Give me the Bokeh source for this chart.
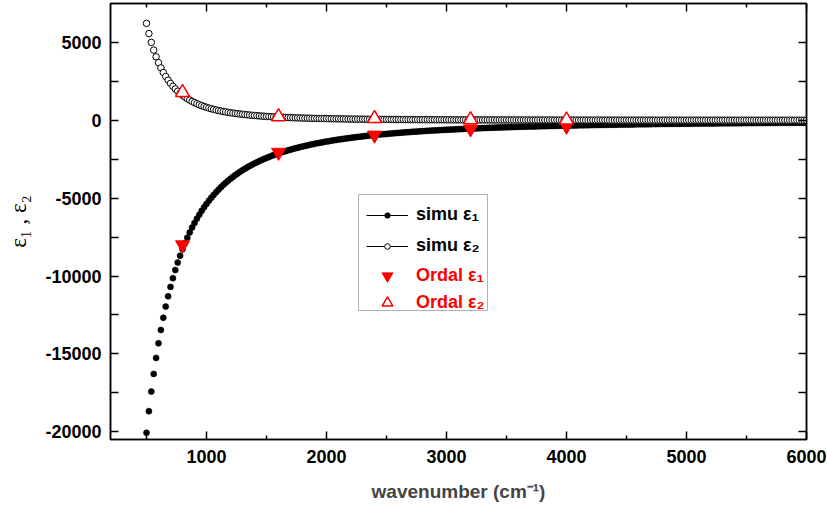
from bokeh.plotting import figure
from bokeh.models import (ColumnDataSource, Range1d, LinearAxis, FixedTicker,
                          Legend, LegendItem, BoxAnnotation, PrintfTickFormatter,
                          CustomLabelingPolicy)
from bokeh.core.properties import value
from bokeh.embed import file_html
from bokeh.resources import INLINE

# ---------------- data ----------------
wavenumber = [
    500, 520, 540, 560, 580, 600, 620, 640, 660, 680,
    700, 720, 740, 760, 780, 800, 820, 840, 860, 880,
    900, 920, 940, 960, 980, 1000, 1020, 1040, 1060, 1080,
    1100, 1120, 1140, 1160, 1180, 1200, 1220, 1240, 1260, 1280,
    1300, 1320, 1340, 1360, 1380, 1400, 1420, 1440, 1460, 1480,
    1500, 1520, 1540, 1560, 1580, 1600, 1620, 1640, 1660, 1680,
    1700, 1720, 1740, 1760, 1780, 1800, 1820, 1840, 1860, 1880,
    1900, 1920, 1940, 1960, 1980, 2000, 2020, 2040, 2060, 2080,
    2100, 2120, 2140, 2160, 2180, 2200, 2220, 2240, 2260, 2280,
    2300, 2320, 2340, 2360, 2380, 2400, 2420, 2440, 2460, 2480,
    2500, 2520, 2540, 2560, 2580, 2600, 2620, 2640, 2660, 2680,
    2700, 2720, 2740, 2760, 2780, 2800, 2820, 2840, 2860, 2880,
    2900, 2920, 2940, 2960, 2980, 3000, 3020, 3040, 3060, 3080,
    3100, 3120, 3140, 3160, 3180, 3200, 3220, 3240, 3260, 3280,
    3300, 3320, 3340, 3360, 3380, 3400, 3420, 3440, 3460, 3480,
    3500, 3520, 3540, 3560, 3580, 3600, 3620, 3640, 3660, 3680,
    3700, 3720, 3740, 3760, 3780, 3800, 3820, 3840, 3860, 3880,
    3900, 3920, 3940, 3960, 3980, 4000, 4020, 4040, 4060, 4080,
    4100, 4120, 4140, 4160, 4180, 4200, 4220, 4240, 4260, 4280,
    4300, 4320, 4340, 4360, 4380, 4400, 4420, 4440, 4460, 4480,
    4500, 4520, 4540, 4560, 4580, 4600, 4620, 4640, 4660, 4680,
    4700, 4720, 4740, 4760, 4780, 4800, 4820, 4840, 4860, 4880,
    4900, 4920, 4940, 4960, 4980, 5000, 5020, 5040, 5060, 5080,
    5100, 5120, 5140, 5160, 5180, 5200, 5220, 5240, 5260, 5280,
    5300, 5320, 5340, 5360, 5380, 5400, 5420, 5440, 5460, 5480,
    5500, 5520, 5540, 5560, 5580, 5600, 5620, 5640, 5660, 5680,
    5700, 5720, 5740, 5760, 5780, 5800, 5820, 5840, 5860, 5880,
    5900, 5920, 5940, 5960, 5980, 6000,
]

simu_eps1 = [
    -20070, -18680, -17425, -16289, -15259, -14321, -13465, -12683, -11965, -11306,
    -10699, -10139, -9621, -9141, -8696, -8282, -7897, -7537, -7202, -6888,
    -6594, -6318, -6059, -5815, -5586, -5370, -5166, -4974, -4792, -4619,
    -4456, -4301, -4154, -4015, -3882, -3756, -3636, -3521, -3412, -3307,
    -3208, -3113, -3022, -2935, -2851, -2771, -2695, -2621, -2551, -2483,
    -2418, -2355, -2295, -2237, -2181, -2128, -2076, -2026, -1978, -1931,
    -1886, -1843, -1801, -1761, -1722, -1684, -1648, -1612, -1578, -1545,
    -1513, -1481, -1451, -1422, -1393, -1366, -1339, -1313, -1288, -1263,
    -1239, -1216, -1194, -1172, -1151, -1130, -1110, -1090, -1071, -1052,
    -1034, -1016, -999, -982, -966, -950, -934, -919, -904, -890,
    -876, -862, -848, -835, -822, -810, -797, -785, -774, -762,
    -751, -740, -729, -719, -709, -698, -689, -679, -669, -660,
    -651, -642, -634, -625, -617, -609, -601, -593, -585, -577,
    -570, -563, -556, -549, -542, -535, -528, -522, -515, -509,
    -503, -497, -491, -485, -479, -474, -468, -463, -458, -452,
    -447, -442, -437, -432, -427, -423, -418, -413, -409, -404,
    -400, -396, -392, -387, -383, -379, -375, -371, -368, -364,
    -360, -356, -353, -349, -346, -342, -339, -335, -332, -329,
    -326, -323, -319, -316, -313, -310, -307, -305, -302, -299,
    -296, -293, -291, -288, -285, -283, -280, -278, -275, -273,
    -270, -268, -266, -263, -261, -259, -256, -254, -252, -250,
    -248, -246, -244, -241, -239, -237, -235, -234, -232, -230,
    -228, -226, -224, -222, -221, -219, -217, -215, -214, -212,
    -210, -209, -207, -205, -204, -202, -201, -199, -198, -196,
    -195, -193, -192, -190, -189, -187, -186, -185, -183, -182,
    -181, -179, -178, -177, -176, -174, -173, -172, -171, -169,
    -168, -167, -166, -165, -164, -162, -161, -160, -159, -158,
    -157, -156, -155, -154, -153, -152,
]

simu_eps2 = [
    6222, 5568, 5002, 4509, 4078, 3700, 3367, 3072, 2810, 2577,
    2369, 2183, 2015, 1865, 1728, 1605, 1493, 1391, 1298, 1213,
    1136, 1065, 999, 939, 884, 833, 785, 741, 701, 663,
    628, 595, 565, 537, 510, 485, 462, 440, 420, 401,
    383, 366, 350, 335, 320, 307, 294, 282, 271, 260,
    250, 240, 231, 222, 214, 206, 199, 192, 185, 178,
    172, 166, 161, 155, 150, 145, 140, 136, 132, 127,
    123, 120, 116, 113, 109, 106, 103, 100, 97, 94,
    92, 89, 87, 84, 82, 80, 78, 75.5, 73.5, 71.6,
    69.7, 68, 66.2, 64.6, 63, 61.4, 59.9, 58.4, 57, 55.7,
    54.3, 53.1, 51.8, 50.6, 49.5, 48.3, 47.2, 46.2, 45.1, 44.1,
    43.2, 42.2, 41.3, 40.4, 39.6, 38.7, 37.9, 37.1, 36.3, 35.6,
    34.9, 34.1, 33.5, 32.8, 32.1, 31.5, 30.9, 30.3, 29.7, 29.1,
    28.5, 28.0, 27.5, 27.0, 26.4, 26.0, 25.5, 25.0, 24.6, 24.1,
    23.7, 23.2, 22.8, 22.4, 22.0, 21.6, 21.3, 20.9, 20.5, 20.2,
    19.8, 19.5, 19.2, 18.9, 18.5, 18.2, 17.9, 17.6, 17.4, 17.1,
    16.8, 16.5, 16.3, 16.0, 15.8, 15.5, 15.3, 15.0, 14.8, 14.6,
    14.3, 14.1, 13.9, 13.7, 13.5, 13.3, 13.1, 12.9, 12.7, 12.5,
    12.4, 12.2, 12.0, 11.8, 11.7, 11.5, 11.3, 11.2, 11.0, 10.9,
    10.7, 10.6, 10.4, 10.3, 10.1, 10.0, 9.9, 9.7, 9.6, 9.5,
    9.3, 9.2, 9.1, 9.0, 8.9, 8.7, 8.6, 8.5, 8.4, 8.3,
    8.2, 8.1, 8.0, 7.9, 7.8, 7.7, 7.6, 7.5, 7.4, 7.3,
    7.2, 7.2, 7.1, 7.0, 6.9, 6.8, 6.7, 6.7, 6.6, 6.5,
    6.4, 6.3, 6.3, 6.2, 6.1, 6.1, 6.0, 5.9, 5.9, 5.8,
    5.7, 5.7, 5.6, 5.5, 5.5, 5.4, 5.4, 5.3, 5.2, 5.2,
    5.1, 5.1, 5.0, 5.0, 4.9, 4.8, 4.8, 4.7, 4.7, 4.6,
    4.6, 4.6, 4.5, 4.5, 4.4, 4.4, 4.3, 4.3, 4.2, 4.2,
    4.1, 4.1, 4.1, 4.0, 4.0, 3.9,
]

ordal_wavenumber = [800, 1600, 2400, 3200, 4000]
ordal_eps1 = [-8000, -2060, -955, -560, -385]
ordal_eps2 = [1795, 230, 115, 30, 20]

x_ticks = [1000, 2000, 3000, 4000, 5000, 6000]
x_minor_ticks = [500, 1500, 2500, 3500, 4500, 5500]
y_ticks = [-20000, -15000, -10000, -5000, 0, 5000]
y_minor_ticks = [-17500, -12500, -7500, -2500, 2500]

legend_labels = ["simu ε₁", "simu ε₂", "Ordal ε₁", "Ordal ε₂"]
x_title = "wavenumber (cm⁻¹)"
y_title = "ε₁ , ε₂"

# ---------------- figure ----------------
n = min(len(wavenumber), len(simu_eps1), len(simu_eps2))
simu = ColumnDataSource(dict(x=wavenumber[:n], e1=simu_eps1[:n], e2=simu_eps2[:n]))
ordal = ColumnDataSource(dict(x=ordal_wavenumber, e1=ordal_eps1, e2=ordal_eps2))

FONT = "Liberation Sans"

p = figure(width=827, height=511, output_backend="svg", toolbar_location=None,
           x_range=Range1d(200, 6000), y_range=Range1d(-20500, 7500),
           min_border_left=110, min_border_right=21, min_border_top=3,
           min_border_bottom=72, background_fill_color="white",
           border_fill_color="white")
p.xgrid.visible = False
p.ygrid.visible = False
p.outline_line_color = "black"
p.outline_line_width = 1.5

xt = FixedTicker(ticks=x_ticks, minor_ticks=x_minor_ticks)
yt = FixedTicker(ticks=y_ticks, minor_ticks=y_minor_ticks)

# mirror axes (top / right) carry ticks only: this policy keeps none of their labels
no_labels = CustomLabelingPolicy(code="for (const i of indices) indices.unset(i); return indices")


def style(ax, ticker, major_len, minor_len, labels):
    ax.ticker = ticker
    ax.formatter = PrintfTickFormatter(format="%d")
    ax.axis_line_color = "black"
    ax.axis_line_width = 1.5
    ax.major_tick_in = major_len
    ax.major_tick_out = 0
    ax.minor_tick_in = minor_len
    ax.minor_tick_out = 0
    ax.major_tick_line_color = "black"
    ax.major_tick_line_width = 1.5
    ax.minor_tick_line_color = "black"
    ax.minor_tick_line_width = 1.5
    if labels:
        ax.major_label_text_font = FONT
        ax.major_label_text_font_style = "bold"
        ax.major_label_text_font_size = "18px"
        ax.major_label_text_color = "black"
    else:
        ax.major_label_policy = no_labels
        ax.major_label_text_font_size = "1px"
        ax.major_label_text_alpha = 0
        ax.major_label_standoff = 0
        ax.axis_label = None


xa = p.xaxis[0]
ya = p.yaxis[0]
style(xa, xt, 8, 4, True)
style(ya, yt, 8, 8, True)
xa.major_label_standoff = 10
ya.major_label_standoff = 9

xa.axis_label = x_title
xa.axis_label_text_font = FONT
xa.axis_label_text_font_style = "bold"
xa.axis_label_text_font_size = "19px"
xa.axis_label_standoff = 15

ya.axis_label = y_title
ya.axis_label_text_font = "Liberation Serif"
ya.axis_label_text_font_style = "normal"
ya.axis_label_text_font_size = "23px"
ya.axis_label_text_color = "black"
ya.axis_label_standoff = 11

top = LinearAxis()
right = LinearAxis()
style(top, xt, 8, 4, False)
style(right, yt, 8, 8, False)
p.add_layout(top, "above")
p.add_layout(right, "right")

# ---------------- data marks ----------------
r1 = p.scatter("x", "e1", source=simu, marker="circle", size=6,
               fill_color="black", line_color="black", line_width=0.6)
r2 = p.scatter("x", "e2", source=simu, marker="circle", size=6.5,
               fill_color="white", line_color="black", line_width=1)
r3 = p.scatter("x", "e1", source=ordal, marker="inverted_triangle", size=14,
               fill_color="#ff0000", line_color="#ff0000", line_width=1)
r4 = p.scatter("x", "e2", source=ordal, marker="triangle", size=14,
               fill_color="white", line_color="#ff0000", line_width=1.5)

# hidden line renderers: not drawn in the plot, they only give the legend its line
ln1 = p.line("x", "e1", source=simu, line_color="black", line_width=1, visible=False)
ln2 = p.line("x", "e2", source=simu, line_color="black", line_width=1, visible=False)

common = dict(orientation="vertical", glyph_width=42, label_height=21,
              padding=0, margin=0, label_standoff=8,
              border_line_alpha=0, background_fill_alpha=0,
              label_text_font=FONT, label_text_font_style="bold",
              label_text_font_size="18px", click_policy="none")

leg1 = Legend(items=[LegendItem(label=value(legend_labels[0]), renderers=[ln1, r1]),
                     LegendItem(label=value(legend_labels[1]), renderers=[ln2, r2])],
              location=(256, 183), glyph_height=14, spacing=10,
              label_text_color="black", **common)
leg2 = Legend(items=[LegendItem(label=value(legend_labels[2]), renderers=[r3]),
                     LegendItem(label=value(legend_labels[3]), renderers=[r4])],
              location=(256, 123), glyph_height=27, spacing=0,
              label_text_color="#ff0000", **common)
p.add_layout(leg1, "center")
p.add_layout(leg2, "center")

legend_box = BoxAnnotation(left=248, right=377, top=245, bottom=129,
                           left_units="screen", right_units="screen",
                           top_units="screen", bottom_units="screen",
                           fill_color=None, fill_alpha=0,
                           line_color="black", line_width=1)
p.add_layout(legend_box)

open("out.html", "w").write(file_html(p, INLINE))
